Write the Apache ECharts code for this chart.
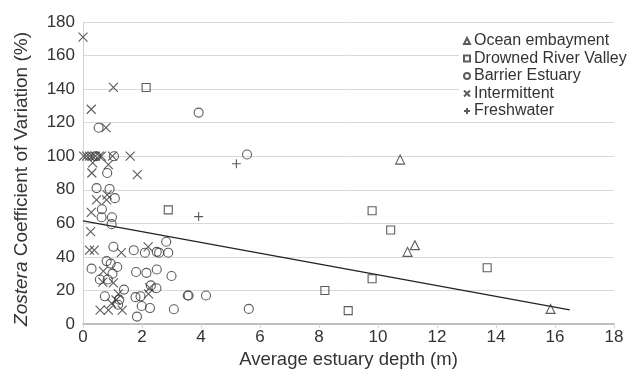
<!DOCTYPE html>
<html>
<head>
<meta charset="utf-8">
<script src="https://cdn.jsdelivr.net/npm/echarts@6/dist/echarts.min.js"></script>
<style>
  html, body { margin: 0; padding: 0; background: #fff; }
  #chart { width: 629px; height: 369px; }
</style>
</head>
<body>
<div id="chart"></div>
<script>
// estuary classes, [depth (m), Zostera CV (%)]
var oceanEmbayment = [[10.75, 98], [11.25, 47], [11.0, 43], [15.85, 9]]
var drownedRiverValley = [
  [2.14, 141], [2.89, 68], [9.8, 67.5], [10.43, 56], [9.8, 27],
  [13.7, 33.5], [8.99, 8], [8.2, 20]
]
var barrierEstuary = [
  [3.92, 126], [5.56, 101], [5.62, 9], [3.55, 17], [3.58, 17], [4.17, 17],
  [0.53, 117], [0.45, 100], [1.05, 100],
  [0.82, 90], [0.46, 81], [0.9, 80.5], [1.08, 75],
  [0.64, 68.4], [0.63, 63.6], [0.98, 63.6], [0.97, 59.5],
  [1.03, 46], [1.72, 44], [2.1, 42.5], [2.5, 43], [2.58, 42.5], [2.89, 42.5], [2.82, 49],
  [0.8, 37.5], [0.94, 36], [1.16, 34], [0.29, 33], [1.0, 30], [1.8, 31], [2.15, 30.5],
  [2.5, 32.5], [3.0, 28.6],
  [0.57, 26.5], [0.84, 26.5], [1.39, 20.5], [1.23, 14.5], [0.74, 16.5], [1.78, 16],
  [1.95, 16.5], [2.3, 23], [2.49, 21.3],
  [1.99, 10.7], [2.27, 9.5], [3.08, 8.8], [1.83, 4.4], [1.19, 11.5]
]
var intermittent = [
  [0, 171], [1.03, 141], [0.28, 128], [0.78, 117],
  [0.02, 100], [0.12, 100], [0.22, 100], [0.32, 100], [0.42, 100], [0.55, 100],
  [0.62, 100], [1.0, 100], [1.6, 100],
  [0.33, 96], [0.86, 95], [0.3, 90], [1.84, 89],
  [0.46, 74], [0.8, 74], [0.82, 77],
  [0.28, 66.5], [0.26, 55],
  [0.22, 44], [0.38, 44], [1.3, 42.5], [2.21, 46],
  [0.69, 31.5], [0.67, 25], [1.03, 24.5],
  [2.26, 21.5], [2.22, 18], [1.2, 18], [0.97, 12.3], [1.12, 14.3],
  [0.58, 8.3], [0.86, 8.3], [1.33, 8.3]
]
var freshwater = [[5.2, 95.5], [3.92, 64]]
// fitted line end points
var trendX = [0, 16.5]
var trendY = [61.5, 8.4]

var ink = '#333'
var crossPath = 'path://M0,0L10,10M10,0L0,10'
var plusPath = 'path://M5,0L5,10M0,5L10,5'

function scatter(name, data, symbol, size) {
  return {
    name: name,
    type: 'scatter',
    data: data,
    symbol: symbol,
    symbolSize: size,
    itemStyle: { color: 'transparent', borderColor: ink, borderWidth: 1.1 },
    emphasis: { disabled: true },
    z: 3
  }
}

var chart = echarts.init(document.getElementById('chart'))
chart.setOption({
  animation: false,
  textStyle: { fontFamily: 'Liberation Sans, Arial, sans-serif' },
  grid: { left: 83, right: 15, top: 22, bottom: 45, containLabel: false, outerBoundsMode: 'none' },
  legend: {
    orient: 'vertical',
    left: 459,
    top: 31,
    padding: [2, 4, 2, 4],
    backgroundColor: '#fff',
    itemWidth: 6,
    itemHeight: 6,
    itemGap: 1.5,
    textStyle: { fontSize: 16, color: ink, padding: [0, 0, 0, -1] },
    data: ['Ocean embayment', 'Drowned River Valley', 'Barrier Estuary', 'Intermittent', 'Freshwater']
  },
  xAxis: {
    type: 'value',
    min: 0,
    max: 18,
    interval: 2,
    name: 'Average estuary depth (m)',
    nameLocation: 'middle',
    nameGap: 17,
    nameTextStyle: { fontSize: 18.5, color: ink },
    axisLine: { lineStyle: { color: '#bfbfbf', width: 2 } },
    axisTick: { show: true, length: 4, lineStyle: { color: '#d9d9d9' } },
    axisLabel: { fontSize: 17, color: ink, margin: 5 },
    splitLine: { show: false }
  },
  yAxis: {
    type: 'value',
    min: 0,
    max: 180,
    interval: 20,
    name: '{i|Zostera} Coefficient of Variation (%)',
    nameLocation: 'middle',
    nameGap: 52,
    nameTextStyle: {
      fontSize: 19,
      color: ink,
      padding: [0, 12, 0, 0],
      rich: { i: { fontStyle: 'italic', fontSize: 19, color: ink } }
    },
    axisLine: { show: true, lineStyle: { color: '#d0d0d0', width: 1 } },
    axisTick: { show: false },
    axisLabel: { fontSize: 17, color: ink, margin: 8 },
    splitLine: { lineStyle: { color: '#d9d9d9', width: 1 } }
  },
  series: [
    scatter('Ocean embayment', oceanEmbayment, 'triangle', 9),
    scatter('Drowned River Valley', drownedRiverValley, 'rect', 8),
    scatter('Barrier Estuary', barrierEstuary, 'circle', 9),
    scatter('Intermittent', intermittent, crossPath, 9),
    scatter('Freshwater', freshwater, plusPath, 9),
    {
      name: 'trend',
      type: 'line',
      data: trendX.map(function (x, i) { return [x, trendY[i]] }),
      symbol: 'none',
      lineStyle: { color: '#222', width: 1.2 },
      silent: true,
      z: 2
    }
  ]
})
</script>
</body>
</html>
